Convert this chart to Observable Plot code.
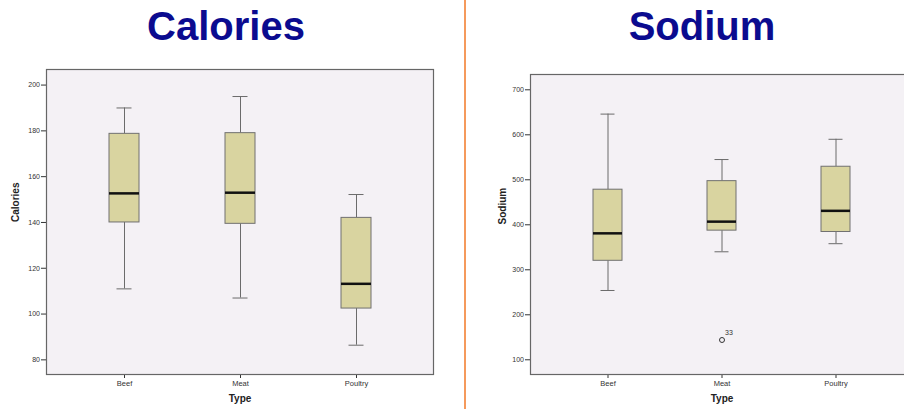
<!DOCTYPE html>
<html>
<head>
<meta charset="utf-8">
<script src="https://cdn.jsdelivr.net/npm/d3@7"></script>
<script src="https://cdn.jsdelivr.net/npm/@observablehq/plot@0.6"></script>
<style>
  html, body { margin: 0; padding: 0; background: #fff; }
  body { width: 904px; height: 409px; overflow: hidden; position: relative; font-family: "Liberation Sans", Arial, sans-serif; }
  .title { position: absolute; top: 4px; font-size: 40px; font-weight: bold; color: #0b0b8f; text-align: center; line-height: 44px; }
  .divider { position: absolute; left: 464px; top: 0; width: 2px; height: 409px; background: #f59a5c; }
  .panel { position: absolute; top: 60px; }
  .panel svg { max-width: none !important; display: block; }
</style>
</head>
<body>
<div class="title" style="left:126px;width:200px;">Calories</div>
<div class="title" style="left:602px;width:200px;">Sodium</div>
<div class="divider"></div>
<div id="cal" class="panel" style="left:0px;"></div>
<div id="sod" class="panel" style="left:470px;width:460px;"></div>
<script>
// Box-plot summaries by meat type
const types = ["Beef", "Meat", "Poultry"];

const calLow  = [111, 107, 86.4];
const calQ1   = [140, 139.4, 102.4];
const calMed  = [152.7, 153, 113.2];
const calQ3   = [178.7, 179, 142];
const calHigh = [190, 195, 152.2];
const calTicks = [80, 100, 120, 140, 160, 180, 200];

const sodLow  = [254, 340, 358];
const sodQ1   = [320, 387, 384];
const sodMed  = [381, 407, 431];
const sodQ3   = [478, 497, 529];
const sodHigh = [646, 545, 590];
const sodTicks = [100, 200, 300, 400, 500, 600, 700];

// Outlying cases (case number shown beside the point)
const outType  = ["Meat"];
const outValue = [144];
const outCase  = ["33"];

function rows(low, q1, med, q3, high) {
  return types.map((t, i) => ({type: t, low: low[i], q1: q1[i], med: med[i], q3: q3[i], high: high[i]}));
}

function boxChart({data, outliers, yDomain, yTicks, yLabel, width, marginLeft, marginRight, marginTop, bandInner, bandOuter, yLabelDx}) {
  const whisker = "#6b6b6b";
  return Plot.plot({
    width,
    height: 349,
    marginLeft,
    marginRight,
    marginTop,
    marginBottom: 35,
    style: {fontFamily: "'Liberation Sans', Arial, sans-serif", background: "transparent", overflow: "visible", maxWidth: "none"},
    x: {type: "band", domain: types, paddingInner: bandInner, paddingOuter: bandOuter, align: 0.5, label: null},
    y: {domain: yDomain, ticks: yTicks, label: null},
    marks: [
      Plot.frame({fill: "#f4f1f5", stroke: null}),
      Plot.axisY({ticks: yTicks, tickSize: 5, tickPadding: 1.5, fontSize: 7, stroke: "#333", color: "#333", label: null}),
      Plot.axisX({tickSize: 4, tickPadding: 2, fontSize: 7.5, stroke: "#333", color: "#333", label: null}),
      Plot.ruleX(data, {x: "type", y1: "low", y2: "q1", stroke: whisker}),
      Plot.ruleX(data, {x: "type", y1: "q3", y2: "high", stroke: whisker}),
      Plot.tickY(data, {x: "type", y: "low", stroke: whisker, insetLeft: 7.5, insetRight: 7.5}),
      Plot.tickY(data, {x: "type", y: "high", stroke: whisker, insetLeft: 7.5, insetRight: 7.5}),
      Plot.barY(data, {x: "type", y1: "q1", y2: "q3", fill: "#d9d4a0", stroke: "#707070", strokeWidth: 1}),
      Plot.tickY(data, {x: "type", y: "med", stroke: "#111", strokeWidth: 2.5}),
      Plot.dot(outliers, {x: "type", y: "value", r: 2.5, stroke: "#333", strokeWidth: 1, fill: "none"}),
      Plot.text(outliers, {x: "type", y: "value", text: "label", dx: 7, dy: -7, fontSize: 7, fill: "#333"}),
      Plot.text([yLabel], {frameAnchor: "left", dx: yLabelDx, rotate: -90, fontSize: 10, fontWeight: "bold", fill: "#222"}),
      Plot.text(["Type"], {frameAnchor: "bottom", dy: 27, fontSize: 10, fontWeight: "bold", fill: "#222"}),
      Plot.frame({stroke: "#666", strokeWidth: 1.2})
    ]
  });
}

document.getElementById("cal").append(boxChart({
  data: rows(calLow, calQ1, calMed, calQ3, calHigh),
  outliers: [],
  yDomain: [73.6, 206.8],
  yTicks: calTicks,
  yLabel: "Calories",
  width: 460,
  marginLeft: 46,
  marginRight: 27,
  marginTop: 9,
  bandInner: 0.742,
  bandOuter: 0.533,
  yLabelDx: -31
}));

document.getElementById("sod").append(boxChart({
  data: rows(sodLow, sodQ1, sodMed, sodQ3, sodHigh),
  outliers: outType.map((t, i) => ({type: t, value: outValue[i], label: outCase[i]})),
  yDomain: [67.3, 734],
  yTicks: sodTicks,
  yLabel: "Sodium",
  width: 460,
  marginLeft: 60,
  marginRight: 17,
  marginTop: 14,
  bandInner: 0.748,
  bandOuter: 0.54,
  yLabelDx: -28
}));
</script>
</body>
</html>
